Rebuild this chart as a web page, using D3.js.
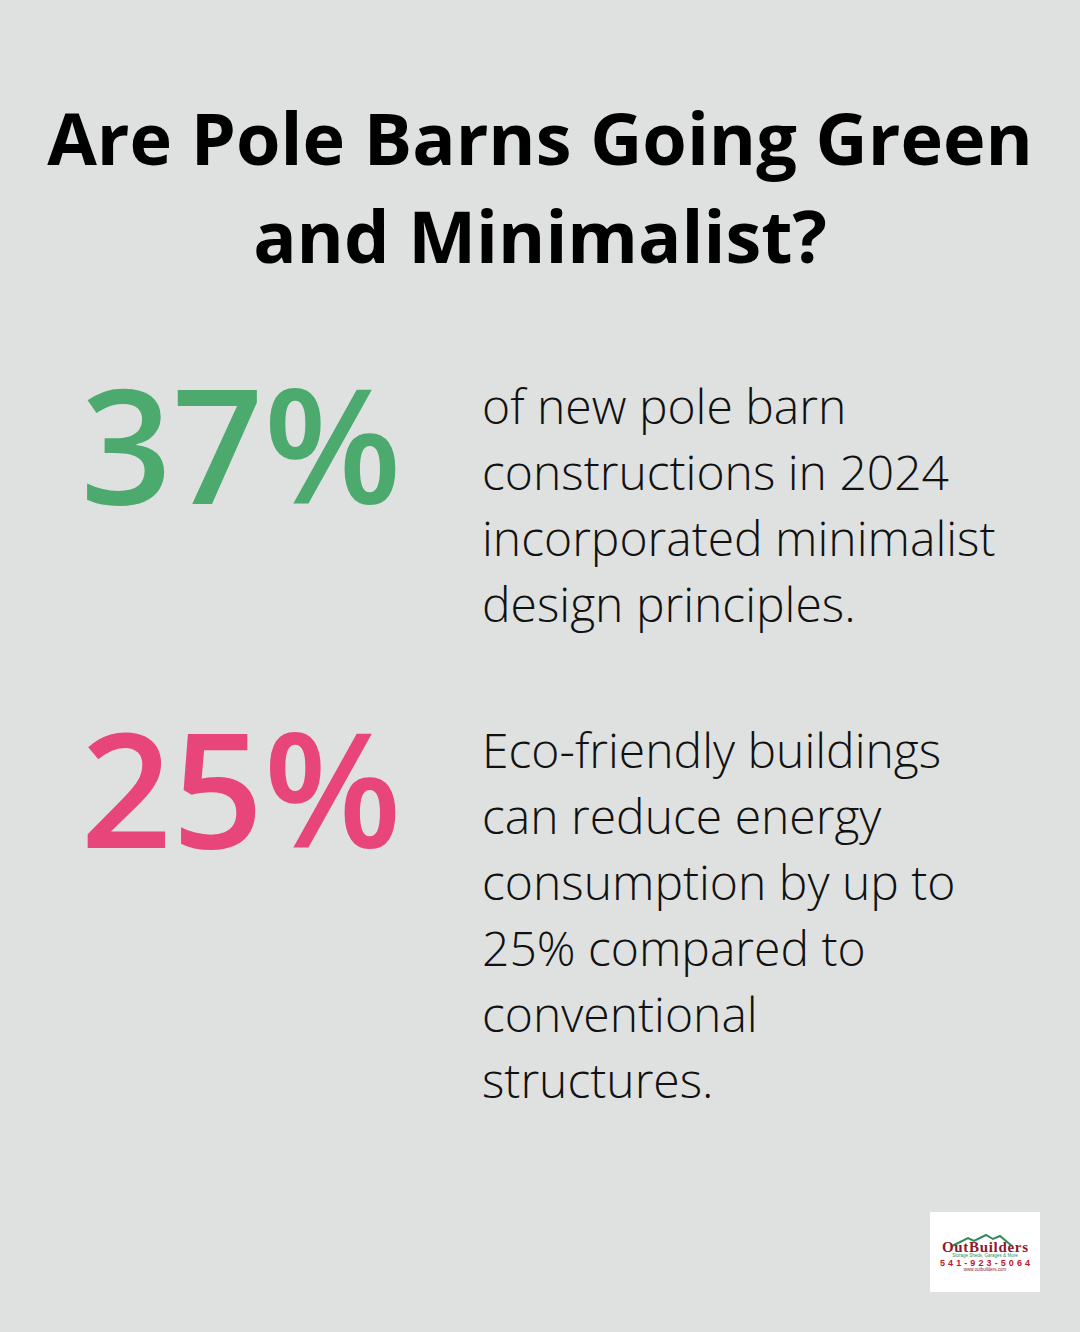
<!DOCTYPE html>
<html><head><meta charset="utf-8">
<script src="https://cdn.jsdelivr.net/npm/d3@7"></script>
<style>html,body{margin:0;padding:0;background:#dfe1e0;}svg{display:block;}</style>
</head><body>
<script>
const titleLines = ["Are Pole Barns Going Green", "and Minimalist?"];
const statValues = [37, 25];
const statColors = ["#4caa6e", "#e8457a"];
const statTexts = [
  ["of new pole barn", "constructions in 2024", "incorporated minimalist", "design principles."],
  ["Eco-friendly buildings", "can reduce energy", "consumption by up to", "25% compared to", "conventional", "structures."]
];

const W = 1080, H = 1332;
const svg = d3.select("body").append("svg").attr("width", W).attr("height", H);
svg.append("rect").attr("width", W).attr("height", H).attr("fill", "#dfe1e0");

svg.selectAll("text.title").data(titleLines).join("text")
  .attr("class", "title")
  .attr("x", 540).attr("y", (d, i) => 165 + i * 98)
  .attr("text-anchor", "middle")
  .attr("font-family", "'Open Sans'").attr("font-weight", 700)
  .attr("font-size", 72).attr("fill", "#000")
  .text(d => d);

const blockY = [504, 848];
const descY = [424, 768];
const g = svg.selectAll("g.stat").data(statValues).join("g").attr("class", "stat");
g.append("text")
  .attr("x", 241).attr("y", (d, i) => blockY[i])
  .attr("text-anchor", "middle")
  .attr("font-family", "'Open Sans'").attr("font-weight", 600)
  .attr("font-size", 160).attr("fill", (d, i) => statColors[i])
  .text(d => d + "%");
g.each(function(d, i) {
  d3.select(this).selectAll("text.desc").data(statTexts[i]).join("text")
    .attr("class", "desc")
    .attr("x", 482).attr("y", (t, j) => descY[i] + j * 66)
    .attr("font-family", "'Open Sans'").attr("font-weight", 300)
    .attr("font-size", 48).attr("fill", "#111")
    .text(t => t);
});

// logo
const lg = svg.append("g").attr("transform", "translate(930,1212)");
lg.append("rect").attr("width", 110).attr("height", 80).attr("fill", "#fff");
lg.append("path").attr("d", "M22,34 L38,26 L44,29 L56,23 L63,27 L70,24 L82,34")
  .attr("fill", "none").attr("stroke", "#2e8b57").attr("stroke-width", 2);
lg.append("text").attr("x", 55).attr("y", 40).attr("text-anchor", "middle")
  .attr("font-family", "'Liberation Serif'").attr("font-weight", 700).attr("font-size", 15)
  .attr("fill", "#8b1a2e").attr("textLength", 86).text("OutBuilders");
lg.append("text").attr("x", 55).attr("y", 45).attr("text-anchor", "middle")
  .attr("font-family", "'Liberation Sans'").attr("font-size", 4.5)
  .attr("fill", "#2e8b57").text("Storage Sheds, Garages & More");
lg.append("text").attr("x", 55).attr("y", 53.5).attr("text-anchor", "middle")
  .attr("font-family", "'Liberation Sans'").attr("font-weight", 700).attr("font-size", 9)
  .attr("fill", "#c0142e").attr("textLength", 90).text("541-923-5064");
lg.append("text").attr("x", 55).attr("y", 58.5).attr("text-anchor", "middle")
  .attr("font-family", "'Liberation Sans'").attr("font-size", 4.5)
  .attr("fill", "#8b1a2e").text("www.outbuilders.com");
</script>
</body></html>
